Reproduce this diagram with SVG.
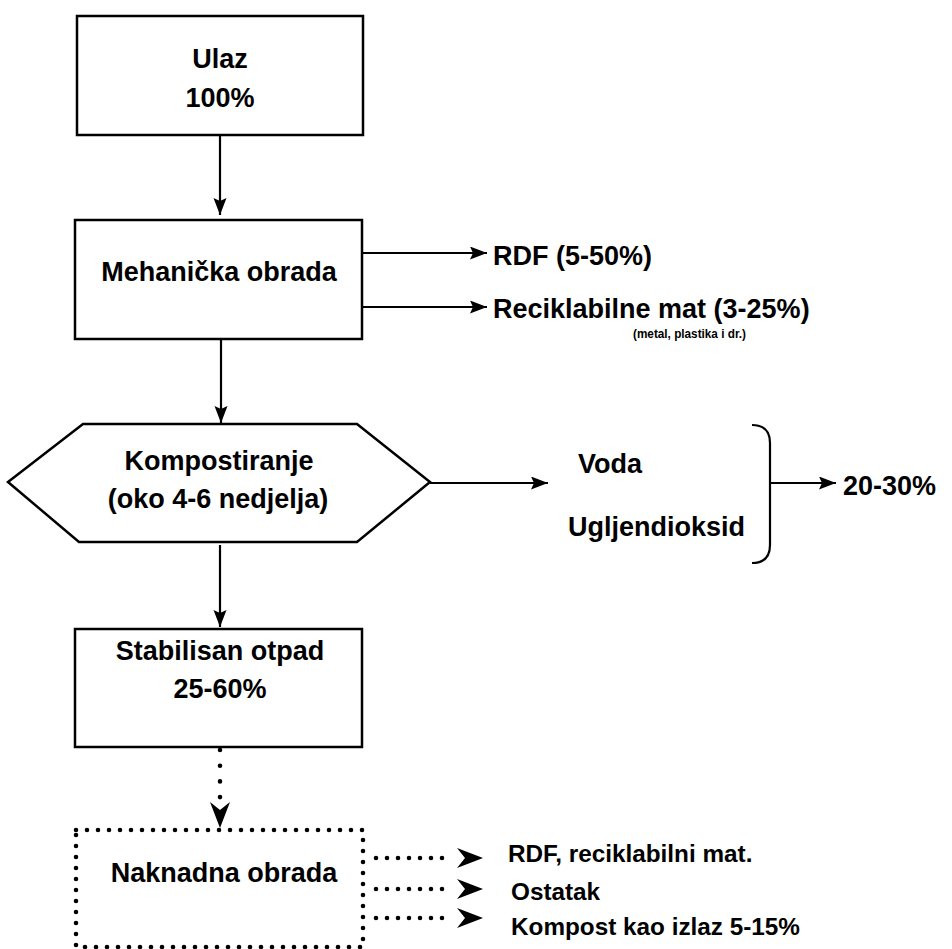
<svg xmlns="http://www.w3.org/2000/svg" width="952" height="949" viewBox="0 0 952 949">
<defs>
<style>
.box{fill:#fff;stroke:#000;stroke-width:2.5}
.ln{fill:none;stroke:#000;stroke-width:2.2}
.dot{fill:none;stroke:#000;stroke-width:4.6;stroke-linecap:round;stroke-dasharray:0 11}
.dotl{fill:none;stroke:#000;stroke-width:4.6;stroke-linecap:round;stroke-dasharray:0 15.7}
text{font-family:"Liberation Sans",Arial,sans-serif;font-weight:bold;fill:#000}
.t27{font-size:27px}
.t24{font-size:24.3px}
.t12{font-size:13px}
.c{text-anchor:middle}
</style>
<marker id="ah" markerUnits="userSpaceOnUse" markerWidth="18" markerHeight="14" refX="17" refY="6.5" orient="auto">
<path d="M0,0 L17,6.5 L0,13 L3,6.5 z" fill="#000"/>
</marker>
</defs>
<g id="connectors">
<line class="ln" x1="220" y1="135" x2="220" y2="215" marker-end="url(#ah)"/>
<line class="ln" x1="362" y1="253" x2="487" y2="253" marker-end="url(#ah)"/>
<line class="ln" x1="362" y1="307" x2="487" y2="307" marker-end="url(#ah)"/>
<line class="ln" x1="221" y1="339" x2="221" y2="423" marker-end="url(#ah)"/>
<line class="ln" x1="430" y1="483" x2="548" y2="483" marker-end="url(#ah)"/>
<line class="ln" x1="220" y1="545" x2="220" y2="627" marker-end="url(#ah)"/>
<path class="ln" d="M752,425 Q770,425 770,443 L770,545 Q770,563 752,563" stroke-width="2.5"/>
<line class="ln" x1="770" y1="483" x2="836" y2="483" marker-end="url(#ah)"/>
<line class="dotl" x1="220" y1="750" x2="220" y2="803"/>
<path d="M210,802 L220,828 L230,802 L220,810 z" fill="#000"/>
<line class="dot" x1="376" y1="858" x2="453" y2="858"/>
<path d="M457,848 L483,858 L457,868 L465,858 z" fill="#000"/>
<line class="dot" x1="376" y1="889" x2="453" y2="889"/>
<path d="M457,879 L483,889 L457,899 L465,889 z" fill="#000"/>
<line class="dot" x1="376" y1="918" x2="453" y2="918"/>
<path d="M457,908 L483,918 L457,928 L465,918 z" fill="#000"/>
</g>
<g id="ulaz">
<rect class="box" x="77" y="16" width="286" height="119"/>
<text class="t27 c" x="220" y="68">Ulaz</text>
<text class="t27 c" x="220" y="107">100%</text>
</g>
<g id="mehanicka">
<rect class="box" x="75" y="220" width="287" height="119"/>
<text class="t27 c" x="219" y="281">Mehanička obrada</text>
</g>
<g id="rdf">
<text class="t27" x="493" y="265">RDF (5-50%)</text>
</g>
<g id="reciklabilne">
<text class="t27" x="493" y="318">Reciklabilne mat (3-25%)</text>
<text class="t12" x="633" y="338" textLength="113" lengthAdjust="spacingAndGlyphs">(metal, plastika i dr.)</text>
</g>
<g id="kompostiranje">
<polygon class="box" points="8,482 83,424 357,424 430,482 357,542 79,542"/>
<text class="t27 c" x="219" y="470">Kompostiranje</text>
<text class="t27 c" x="218" y="508">(oko 4-6 nedjelja)</text>
</g>
<g id="voda">
<text class="t27" x="578" y="473">Voda</text>
</g>
<g id="ugljendioksid">
<text class="t27" x="568" y="536">Ugljendioksid</text>
</g>
<g id="procenat">
<text class="t27" x="843" y="495">20-30%</text>
</g>
<g id="stabilisan">
<rect class="box" x="75" y="629" width="287" height="118"/>
<text class="t27 c" x="220" y="660">Stabilisan otpad</text>
<text class="t27 c" x="220" y="698">25-60%</text>
</g>
<g id="naknadna">
<rect class="dot" x="76" y="830" width="287" height="117"/>
<text class="t27 c" x="224" y="882">Naknadna obrada</text>
</g>
<g id="izlazi">
<text class="t24" x="508" y="862">RDF, reciklabilni mat.</text>
<text class="t24" x="511" y="900">Ostatak</text>
<text class="t24" x="511" y="935">Kompost kao izlaz 5-15%</text>
</g>
</svg>
